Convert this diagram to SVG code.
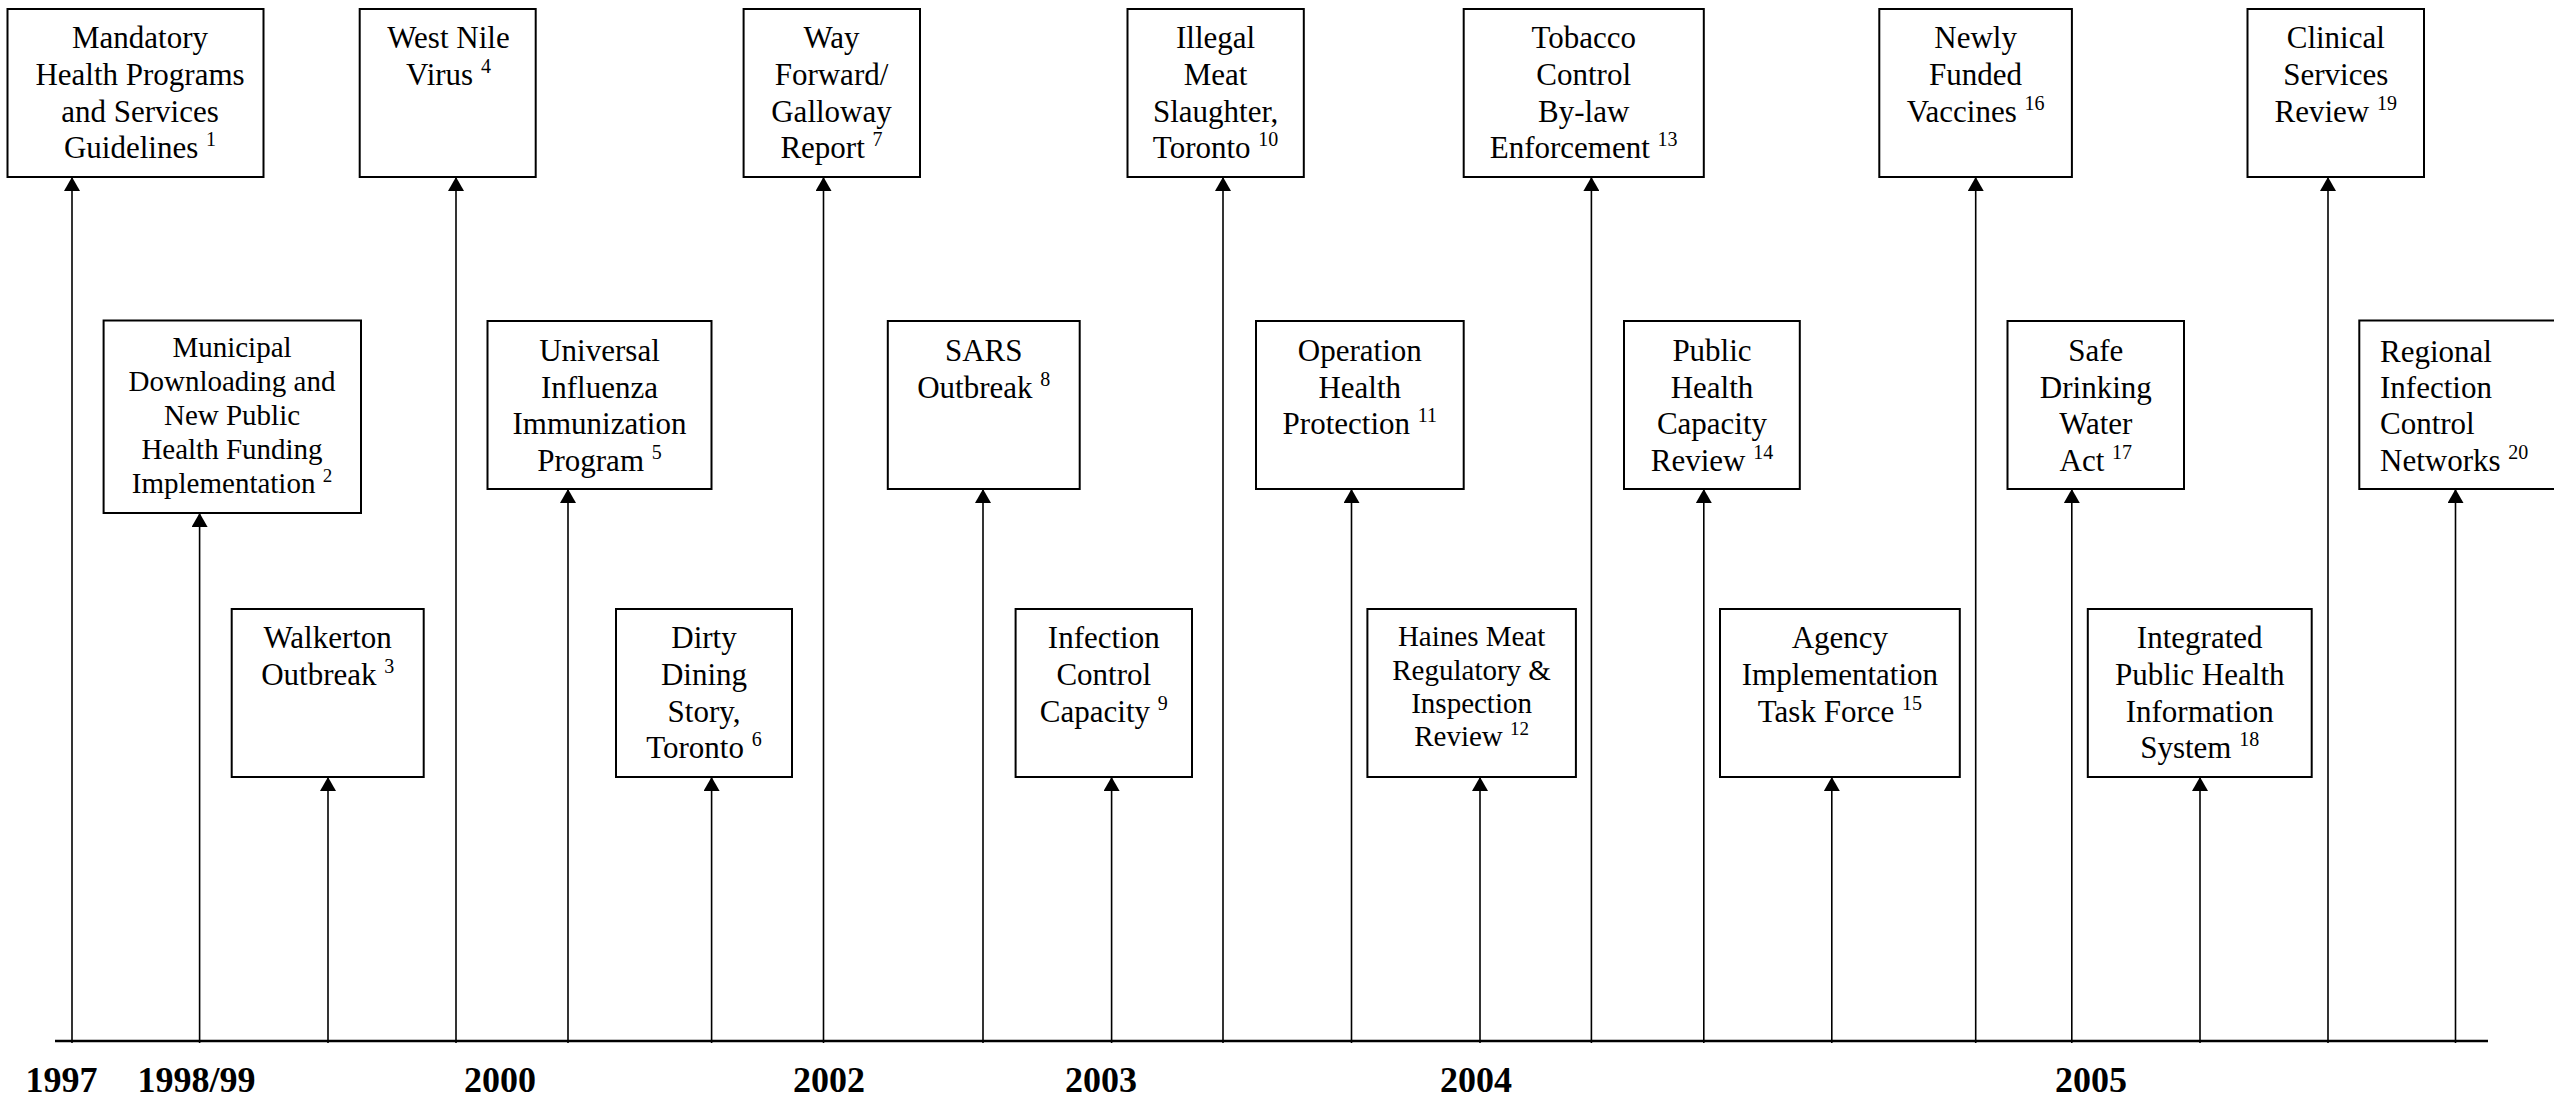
<svg xmlns="http://www.w3.org/2000/svg" width="2554" height="1096" viewBox="0 0 2554 1096">
<style>
.box{fill:#fff;stroke:#000;stroke-width:2}
.t{font-family:"Liberation Serif","Times New Roman",serif;font-size:31px;text-anchor:middle;fill:#000}
.s{font-size:29px}
.l{text-anchor:start}
.sup{font-size:20px}
.conn{stroke:#000;stroke-width:1.6;fill:none}
.axis{stroke:#000;stroke-width:2.5}
.yr{font-family:"Liberation Serif","Times New Roman",serif;font-size:36px;font-weight:bold;text-anchor:middle;fill:#000}
</style>
<defs>
<marker id="ah" viewBox="0 0 14 16" refX="14" refY="8" markerWidth="14" markerHeight="16" markerUnits="userSpaceOnUse" orient="auto">
<path d="M0,0 L14,8 L0,16 z" fill="#000"/>
</marker>
</defs>
<rect width="2554" height="1096" fill="#fff"/>

<g id="connectors">
<line class="axis" x1="55" y1="1041" x2="2488" y2="1041"/>
<line class="conn" x1="72" y1="1043" x2="72" y2="177" marker-end="url(#ah)"/>
<line class="conn" x1="199.6" y1="1043" x2="199.6" y2="513" marker-end="url(#ah)"/>
<line class="conn" x1="328" y1="1043" x2="328" y2="777" marker-end="url(#ah)"/>
<line class="conn" x1="456" y1="1043" x2="456" y2="177" marker-end="url(#ah)"/>
<line class="conn" x1="568" y1="1043" x2="568" y2="489" marker-end="url(#ah)"/>
<line class="conn" x1="711.6" y1="1043" x2="711.6" y2="777" marker-end="url(#ah)"/>
<line class="conn" x1="823.5" y1="1043" x2="823.5" y2="177" marker-end="url(#ah)"/>
<line class="conn" x1="983" y1="1043" x2="983" y2="489" marker-end="url(#ah)"/>
<line class="conn" x1="1111.6" y1="1043" x2="1111.6" y2="777" marker-end="url(#ah)"/>
<line class="conn" x1="1223" y1="1043" x2="1223" y2="177" marker-end="url(#ah)"/>
<line class="conn" x1="1351.5" y1="1043" x2="1351.5" y2="489" marker-end="url(#ah)"/>
<line class="conn" x1="1480" y1="1043" x2="1480" y2="777" marker-end="url(#ah)"/>
<line class="conn" x1="1591.4" y1="1043" x2="1591.4" y2="177" marker-end="url(#ah)"/>
<line class="conn" x1="1703.8" y1="1043" x2="1703.8" y2="489" marker-end="url(#ah)"/>
<line class="conn" x1="1831.8" y1="1043" x2="1831.8" y2="777" marker-end="url(#ah)"/>
<line class="conn" x1="1975.7" y1="1043" x2="1975.7" y2="177" marker-end="url(#ah)"/>
<line class="conn" x1="2071.8" y1="1043" x2="2071.8" y2="489" marker-end="url(#ah)"/>
<line class="conn" x1="2200" y1="1043" x2="2200" y2="777" marker-end="url(#ah)"/>
<line class="conn" x1="2328" y1="1043" x2="2328" y2="177" marker-end="url(#ah)"/>
<line class="conn" x1="2455.5" y1="1043" x2="2455.5" y2="489" marker-end="url(#ah)"/>
</g>

<g id="node-1">
<rect class="box" x="7.5" y="9" width="256" height="168"/>
<text class="t"><tspan x="140" y="48.3">Mandatory</tspan><tspan x="140" y="85">Health Programs</tspan><tspan x="140" y="121.7">and Services</tspan><tspan x="140" y="158.3">Guidelines <tspan class="sup" dy="-12">1</tspan></tspan></text>
</g>
<g id="node-2">
<rect class="box" x="103.6" y="320.5" width="257.4" height="192.5"/>
<text class="t s"><tspan x="232" y="356.7">Municipal</tspan><tspan x="232" y="390.7">Downloading and</tspan><tspan x="232" y="425">New Public</tspan><tspan x="232" y="458.5">Health Funding</tspan><tspan x="232" y="492.7">Implementation <tspan class="sup" dy="-11" style="font-size:19px">2</tspan></tspan></text>
</g>
<g id="node-3">
<rect class="box" x="231.7" y="609" width="192" height="168"/>
<text class="t"><tspan x="327.7" y="648.3">Walkerton</tspan><tspan x="327.7" y="685">Outbreak <tspan class="sup" dy="-12">3</tspan></tspan></text>
</g>
<g id="node-4">
<rect class="box" x="359.7" y="9" width="176" height="168"/>
<text class="t"><tspan x="448.5" y="48.3">West Nile</tspan><tspan x="448.5" y="85">Virus <tspan class="sup" dy="-12">4</tspan></tspan></text>
</g>
<g id="node-5">
<rect class="box" x="487.5" y="321" width="224" height="168"/>
<text class="t"><tspan x="599.5" y="361">Universal</tspan><tspan x="599.5" y="397.7">Influenza</tspan><tspan x="599.5" y="434.3">Immunization</tspan><tspan x="599.5" y="471">Program <tspan class="sup" dy="-12">5</tspan></tspan></text>
</g>
<g id="node-6">
<rect class="box" x="616" y="609" width="176" height="168"/>
<text class="t"><tspan x="704" y="648.3">Dirty</tspan><tspan x="704" y="685">Dining</tspan><tspan x="704" y="721.7">Story,</tspan><tspan x="704" y="758.3">Toronto <tspan class="sup" dy="-12">6</tspan></tspan></text>
</g>
<g id="node-7">
<rect class="box" x="743.6" y="9" width="176.4" height="168"/>
<text class="t"><tspan x="831.5" y="48.3">Way</tspan><tspan x="831.5" y="85">Forward/</tspan><tspan x="831.5" y="121.7">Galloway</tspan><tspan x="831.5" y="158.3">Report <tspan class="sup" dy="-12">7</tspan></tspan></text>
</g>
<g id="node-8">
<rect class="box" x="887.8" y="321" width="191.9" height="168"/>
<text class="t"><tspan x="983.7" y="361">SARS</tspan><tspan x="983.7" y="397.7">Outbreak <tspan class="sup" dy="-12">8</tspan></tspan></text>
</g>
<g id="node-9">
<rect class="box" x="1015.6" y="609" width="176.4" height="168"/>
<text class="t"><tspan x="1103.8" y="648.3">Infection</tspan><tspan x="1103.8" y="685">Control</tspan><tspan x="1103.8" y="721.7">Capacity <tspan class="sup" dy="-12">9</tspan></tspan></text>
</g>
<g id="node-10">
<rect class="box" x="1127.5" y="9" width="176.3" height="168"/>
<text class="t"><tspan x="1215.6" y="48.3">Illegal</tspan><tspan x="1215.6" y="85">Meat</tspan><tspan x="1215.6" y="121.7">Slaughter,</tspan><tspan x="1215.6" y="158.3">Toronto <tspan class="sup" dy="-12">10</tspan></tspan></text>
</g>
<g id="node-11">
<rect class="box" x="1256" y="321" width="207.7" height="168"/>
<text class="t"><tspan x="1359.8" y="361">Operation</tspan><tspan x="1359.8" y="397.7">Health</tspan><tspan x="1359.8" y="434.3">Protection <tspan class="sup" dy="-12">11</tspan></tspan></text>
</g>
<g id="node-12">
<rect class="box" x="1367.4" y="609" width="208.5" height="168"/>
<text class="t s"><tspan x="1471.6" y="645.7">Haines Meat</tspan><tspan x="1471.6" y="679.5">Regulatory &amp;</tspan><tspan x="1471.6" y="713">Inspection</tspan><tspan x="1471.6" y="746">Review <tspan class="sup" dy="-11" style="font-size:19px">12</tspan></tspan></text>
</g>
<g id="node-13">
<rect class="box" x="1463.7" y="9" width="240.1" height="168"/>
<text class="t"><tspan x="1583.7" y="48.3">Tobacco</tspan><tspan x="1583.7" y="85">Control</tspan><tspan x="1583.7" y="121.7">By-law</tspan><tspan x="1583.7" y="158.3">Enforcement <tspan class="sup" dy="-12">13</tspan></tspan></text>
</g>
<g id="node-14">
<rect class="box" x="1624" y="321" width="175.8" height="168"/>
<text class="t"><tspan x="1712" y="361">Public</tspan><tspan x="1712" y="397.7">Health</tspan><tspan x="1712" y="434.3">Capacity</tspan><tspan x="1712" y="471">Review <tspan class="sup" dy="-12">14</tspan></tspan></text>
</g>
<g id="node-15">
<rect class="box" x="1720" y="609" width="239.8" height="168"/>
<text class="t"><tspan x="1839.9" y="648.3">Agency</tspan><tspan x="1839.9" y="685">Implementation</tspan><tspan x="1839.9" y="721.7">Task Force <tspan class="sup" dy="-12">15</tspan></tspan></text>
</g>
<g id="node-16">
<rect class="box" x="1879.3" y="9" width="192.6" height="168"/>
<text class="t"><tspan x="1975.6" y="48.3">Newly</tspan><tspan x="1975.6" y="85">Funded</tspan><tspan x="1975.6" y="121.7">Vaccines <tspan class="sup" dy="-12">16</tspan></tspan></text>
</g>
<g id="node-17">
<rect class="box" x="2007.5" y="321" width="176.5" height="168"/>
<text class="t"><tspan x="2095.8" y="361">Safe</tspan><tspan x="2095.8" y="397.7">Drinking</tspan><tspan x="2095.8" y="434.3">Water</tspan><tspan x="2095.8" y="471">Act <tspan class="sup" dy="-12">17</tspan></tspan></text>
</g>
<g id="node-18">
<rect class="box" x="2087.8" y="609" width="223.9" height="168"/>
<text class="t"><tspan x="2199.7" y="648.3">Integrated</tspan><tspan x="2199.7" y="685">Public Health</tspan><tspan x="2199.7" y="721.7">Information</tspan><tspan x="2199.7" y="758.3">System <tspan class="sup" dy="-12">18</tspan></tspan></text>
</g>
<g id="node-19">
<rect class="box" x="2247.5" y="9" width="176.5" height="168"/>
<text class="t"><tspan x="2335.8" y="48.3">Clinical</tspan><tspan x="2335.8" y="85">Services</tspan><tspan x="2335.8" y="121.7">Review <tspan class="sup" dy="-12">19</tspan></tspan></text>
</g>
<g id="node-20">
<rect class="box" x="2359.3" y="320.5" width="220" height="168.5"/>
<text class="t l"><tspan x="2380" y="361.5">Regional</tspan><tspan x="2380" y="397.7">Infection</tspan><tspan x="2380" y="434.3">Control</tspan><tspan x="2380" y="471">Networks <tspan class="sup" dy="-12">20</tspan></tspan></text>
</g>

<g id="years">
<text class="yr" x="61.6" y="1091.5">1997</text>
<text class="yr" x="196.5" y="1091.5">1998/99</text>
<text class="yr" x="500" y="1091.5">2000</text>
<text class="yr" x="829" y="1091.5">2002</text>
<text class="yr" x="1101" y="1091.5">2003</text>
<text class="yr" x="1476" y="1091.5">2004</text>
<text class="yr" x="2091" y="1091.5">2005</text>
</g>
</svg>
